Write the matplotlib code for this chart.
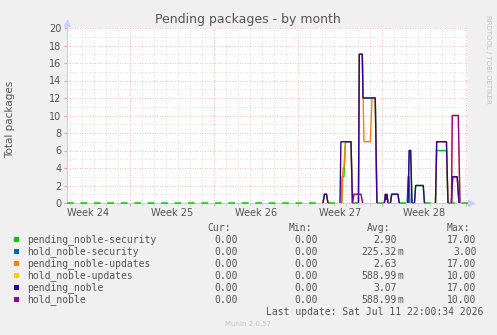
import numpy as np
import matplotlib
matplotlib.use("Agg")
import matplotlib.pyplot as plt
from matplotlib.patches import Rectangle

# time in days, day 0 = start of week 24
weeks = [24, 25, 26, 27, 28]

sec_t = [1.75, 23.08, 23.21, 23.375, 23.5, 24.63, 24.67, 24.83, 24.96, 25.42, 25.54,
         26.04, 26.11, 26.36, 26.42, 27.44, 27.58, 28.2, 28.29, 28.35, 28.42, 28.5,
         28.71, 28.81, 29.33, 29.44, 30.17, 30.27, 30.39, 30.5, 30.71, 30.81, 31.44,
         31.54, 32.46, 32.56, 33.375, 33.5, 35.17]
sec_v = [0, 0, 1, 1, 0, 0, 3, 3, 7, 7, 0,
         0, 17, 17, 12, 12, 0, 0, 1, 0.4, 1, 0,
         0, 1, 1, 0, 0, 6, 6, 0, 0, 2, 2,
         0, 0, 6, 6, 0, 0]

hold_sec_t = [1.75, 30.1, 30.19, 30.25, 30.33, 33.79, 33.89, 34.27, 34.42, 35.17]
hold_sec_v = [0, 0, 3, 3, 0, 0, 3, 3, 0, 0]

upd_t = [1.75, 23.08, 23.21, 23.375, 23.5, 24.67, 24.75, 24.83, 24.96, 25.42, 25.54,
         26.04, 26.11, 26.36, 26.5, 27.03, 27.17, 27.44, 27.58, 28.2, 28.29, 28.35,
         28.42, 28.5, 28.71, 28.81, 29.33, 29.44, 32.46, 32.56, 33.375, 33.5, 33.79,
         33.89, 34.27, 34.42, 35.17]
upd_v = [0, 0, 1, 1, 0, 0, 4, 4, 7, 7, 0,
         0, 17, 17, 7, 7, 12, 12, 0, 0, 1, 0.4,
         1, 0, 0, 1, 1, 0, 0, 7, 7, 0, 0,
         3, 3, 0, 0]

hold_upd_t = [1.75, 25.54, 25.67, 26.25, 26.39, 33.79, 33.86, 34.36, 34.5, 35.17]
hold_upd_v = [0, 0, 1, 1, 0, 0, 10, 10, 0, 0]

pend_t = [1.75, 23.08, 23.21, 23.375, 23.5, 24.5, 24.58, 25.42, 25.54, 26.04, 26.11,
          26.36, 26.42, 27.44, 27.58, 28.2, 28.29, 28.35, 28.42, 28.5, 28.71, 28.81,
          29.33, 29.44, 30.17, 30.27, 30.39, 30.5, 30.71, 30.81, 31.44, 31.54, 32.46,
          32.56, 33.375, 33.5, 33.79, 33.89, 34.27, 34.42, 35.17]
pend_v = [0, 0, 1, 1, 0, 0, 7, 7, 0, 0, 17,
          17, 12, 12, 0, 0, 1, 0.4, 1, 0, 0, 1,
          1, 0, 0, 6, 6, 0, 0, 2, 2, 0, 0,
          7, 7, 0, 0, 3, 3, 0, 0]

hold_t = [1.75, 25.54, 25.67, 26.25, 26.39, 33.79, 33.86, 34.36, 34.5, 35.17]
hold_v = [0, 0, 1, 1, 0, 0, 10, 10, 0, 0]

names = ["pending_noble-security", "hold_noble-security", "pending_noble-updates",
         "hold_noble-updates", "pending_noble", "hold_noble"]
colors = ["#00CC00", "#0066B3", "#FF8000", "#FFCC00", "#330099", "#990099"]
cur_vals = ["0.00"] * 6
min_vals = ["0.00"] * 6
avg_vals = ["2.90", "225.32m", "2.63", "588.99m", "3.07", "588.99m"]
max_vals = ["17.00", "3.00", "17.00", "10.00", "17.00", "10.00"]

series = [(sec_t, sec_v), (hold_sec_t, hold_sec_v), (upd_t, upd_v),
          (hold_upd_t, hold_upd_v), (pend_t, pend_v), (hold_t, hold_v)]

W, H = 497, 335
txt = "#555555"


def nonzero_part(t, v):
    xs, ys = [], []
    for i in range(len(t) - 1):
        if v[i] == 0 and v[i + 1] == 0:
            continue
        if xs and xs[-1] != t[i]:
            xs.append(np.nan)
            ys.append(np.nan)
        if not xs or np.isnan(xs[-1]):
            xs.append(t[i])
            ys.append(v[i])
        xs.append(t[i + 1])
        ys.append(v[i + 1])
    return xs, ys


def zero_part(t, v):
    xs, ys = [], []
    for i in range(len(t) - 1):
        if v[i] == 0 and v[i + 1] == 0:
            xs += [t[i], t[i + 1], np.nan]
            ys += [0, 0, np.nan]
    return xs, ys


fig = plt.figure(figsize=(W / 100, H / 100), dpi=100, facecolor="#F0F0F0")
ax = fig.add_axes([67 / W, 132 / H, 401 / W, 175 / H])
ax.set_facecolor("white")
ax.set_xlim(1.75, 35.17)
ax.set_ylim(0, 20)

# grid
ax.set_xticks(np.arange(7, 36, 7))
ax.set_xticks(np.arange(2, 36, 1), minor=True)
ax.set_yticks(np.arange(0, 21, 2))
ax.set_yticks(np.arange(1, 20, 2), minor=True)
ax.grid(which="minor", color="#D4D4D4", ls=(0, (1, 2)), lw=0.6)
ax.grid(which="major", color="#F0A8A8", ls=(0, (1, 2)), lw=0.6)
ax.set_axisbelow(True)
ax.set_xticklabels([])
ax.tick_params(axis="x", which="both", length=2, color="#E8A0A0")
ax.tick_params(axis="x", which="minor", color="#D0D0D0")
ax.tick_params(axis="y", which="major", length=2, color="#E8A0A0", labelsize=7,
               labelcolor=txt, pad=2)
ax.tick_params(axis="y", which="minor", length=0)
for w in weeks:
    ax.text((w - 24) * 7 + 3.5, -0.057, f"Week {w}", transform=ax.get_xaxis_transform(),
            ha="center", va="center", fontsize=7, color=txt)

for s in ["top", "right"]:
    ax.spines[s].set_visible(False)
axc = "#C8CCF8"
for s in ["left", "bottom"]:
    ax.spines[s].set_color(axc)
ax.plot([0, 0], [1, 1.025], transform=ax.transAxes, color=axc, lw=1, clip_on=False)
ax.plot([1, 1.008], [0, 0], transform=ax.transAxes, color=axc, lw=1, clip_on=False)
ax.plot([0], [1.03], marker="^", ms=4, color=axc, transform=ax.transAxes, clip_on=False)
ax.plot([1.008], [0], marker=">", ms=4, color=axc, transform=ax.transAxes, clip_on=False)

# data lines, drawn in legend order
zx, zy = zero_part(sec_t, sec_v)
ax.plot(zx, zy, color=colors[0], lw=1.1, ls=(0, (4.4, 4.4)), zorder=3, clip_on=False)
for (t, v), c in zip(series, colors):
    x, y = nonzero_part(t, v)
    ax.plot(x, y, color=c, lw=1.0, zorder=3)

# titles
fig.text(248 / W, 1 - 19.5 / H, "Pending packages - by month", ha="center", va="center",
         fontsize=9, color=txt)
fig.text(10 / W, 1 - 119 / H, "Total packages", rotation=90, ha="center", va="center",
         fontsize=7.5, color=txt)
fig.text(488 / W, 1 - 15 / H, "RRDTOOL / TOBI OETIKER", rotation=270, ha="center",
         va="top", fontsize=5, color="#C4C4C4")

# legend
mono = "DejaVu Sans Mono"
hy = 1 - 228 / H
for label, xr in zip(["Cur:", "Min:", "Avg:", "Max:"], [231, 312, 390, 470]):
    fig.text(xr / W, hy, label, ha="right", va="center", family=mono, fontsize=7, color=txt)
for i, name in enumerate(names):
    yp = 239.8 + 12 * i
    fig.add_artist(Rectangle((14 / W, 1 - (yp + 2.5) / H), 5 / W, 5 / H,
                             transform=fig.transFigure, color=colors[i], lw=0))
    fy = 1 - yp / H
    fig.text(27 / W, fy, name, ha="left", va="center", family=mono, fontsize=7, color=txt)
    fig.text(238 / W, fy, cur_vals[i], ha="right", va="center", family=mono, fontsize=7, color=txt)
    fig.text(318 / W, fy, min_vals[i], ha="right", va="center", family=mono, fontsize=7, color=txt)
    a = avg_vals[i]
    if a.endswith("m"):
        fig.text(397 / W, fy, a[:-1], ha="right", va="center", family=mono, fontsize=7, color=txt)
        fig.text(397 / W, fy, "m", ha="left", va="center", family=mono, fontsize=7, color=txt)
    else:
        fig.text(397 / W, fy, a, ha="right", va="center", family=mono, fontsize=7, color=txt)
    fig.text(476.7 / W, fy, max_vals[i], ha="right", va="center", family=mono, fontsize=7, color=txt)

fig.text(483 / W, 1 - 311.7 / H, "Last update: Sat Jul 11 22:00:34 2026", ha="right",
         va="center", family=mono, fontsize=7, color=txt)
fig.text(248 / W, 1 - 324 / H, "Munin 2.0.57", ha="center", va="center", fontsize=5,
         color="#C4C4C4")

fig.savefig("out.png", dpi=100, facecolor=fig.get_facecolor())
